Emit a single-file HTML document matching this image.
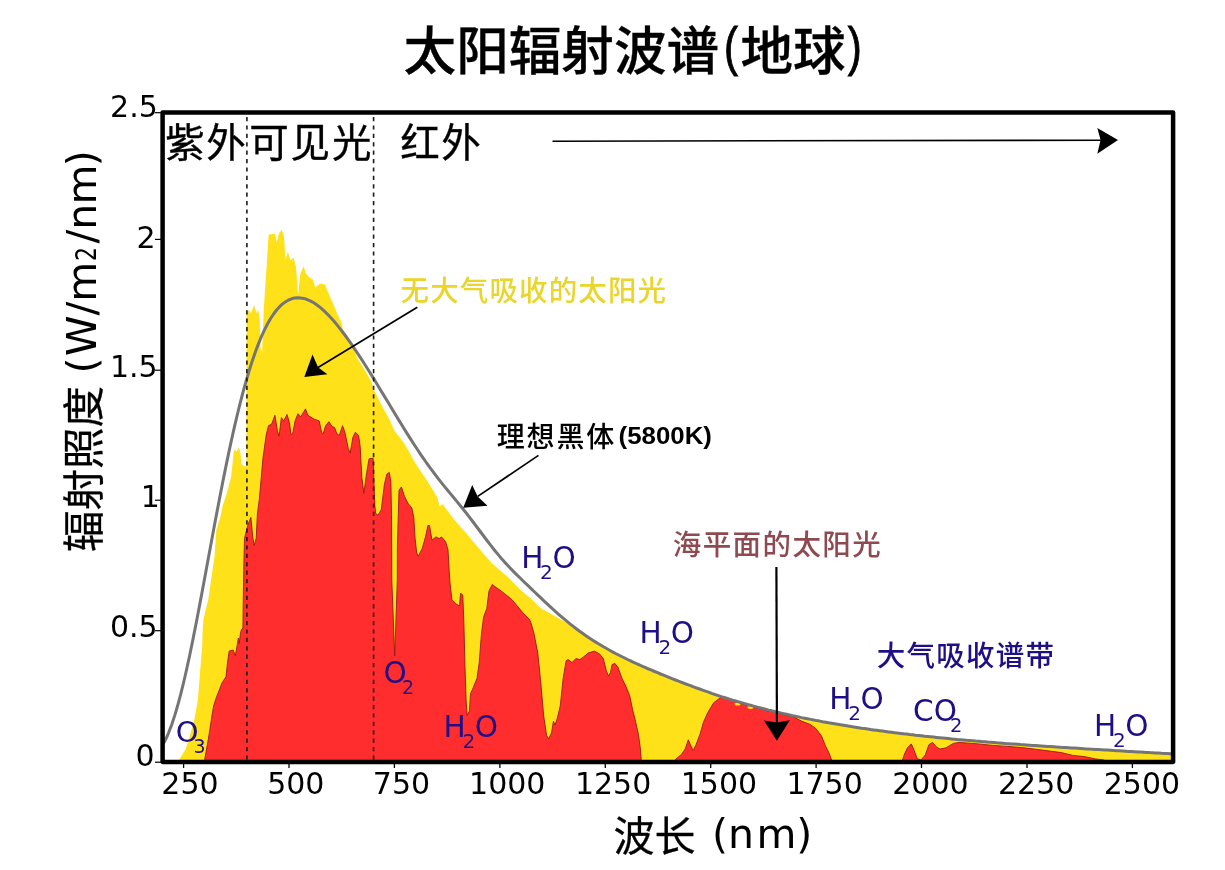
<!DOCTYPE html>
<html lang="zh"><head><meta charset="utf-8"><title>太阳辐射波谱(地球)</title>
<style>
html,body{margin:0;padding:0;background:#fff;}
body{width:1225px;height:870px;overflow:hidden;}
svg{display:block;}
.dj{font-family:"DejaVu Sans","Liberation Sans",sans-serif;}
.cj{font-family:"Liberation Sans","Noto Sans CJK SC",sans-serif;}
.cjd{font-family:"DejaVu Sans","Liberation Sans","Noto Sans CJK SC",sans-serif;}
</style></head><body>
<svg width="1225" height="870" viewBox="0 0 1225 870">
<rect width="1225" height="870" fill="#fff"/>
<path d="M178.0,762.0 L179.3,759.5 L185.7,749.0 L188.2,741.8 L194.5,718.7 L197.9,700.0 L200.2,670.0 L202.2,646.0 L202.6,630.0 L203.5,618.7 L208.3,599.4 L214.7,554.4 L216.3,530.0 L220.3,517.4 L222.6,505.9 L227.2,492.1 L231.3,476.0 L233.6,453.0 L234.7,449.0 L236.5,452.0 L238.7,447.2 L240.5,453.0 L241.6,464.5 L246.4,467.0 L246.6,312.0 L249.0,310.1 L250.9,313.3 L254.1,305.3 L256.6,313.3 L258.2,310.0 L259.8,319.8 L260.6,348.7 L262.2,352.0 L263.8,308.5 L267.0,260.2 L268.6,234.5 L275.1,233.7 L276.7,242.5 L279.1,232.9 L281.8,229.7 L283.9,236.1 L285.5,260.2 L287.9,251.4 L290.3,260.2 L293.6,257.8 L296.0,266.7 L297.6,289.2 L298.4,294.0 L300.0,274.7 L303.7,265.9 L305.6,273.1 L308.9,277.1 L312.9,279.5 L315.3,287.6 L320.1,283.6 L324.9,284.4 L328.2,292.4 L333.0,303.7 L337.8,315.0 L341.8,323.0 L342.7,329.4 L351.0,342.2 L357.4,358.3 L365.4,371.2 L371.0,380.8 L374.3,390.5 L381.5,405.0 L389.5,419.4 L394.4,430.7 L400.8,438.7 L405.6,445.6 L415.4,463.2 L427.1,480.8 L436.9,496.4 L439.8,506.2 L442.7,504.3 L454.5,519.9 L468.2,535.5 L477.9,547.2 L491.6,562.9 L507.2,576.5 L520.0,589.6 L532.6,600.0 L539.6,607.6 L552.0,614.5 L569.0,623.9 L572.0,625.4 L576.0,628.5 L580.0,631.5 L584.0,634.3 L588.0,637.1 L592.0,639.7 L596.0,642.2 L600.0,644.7 L604.0,647.1 L608.0,649.3 L612.0,651.5 L616.0,653.7 L620.0,655.7 L624.0,657.7 L628.0,659.7 L632.0,661.6 L636.0,663.4 L640.0,665.2 L644.0,667.0 L648.0,668.7 L652.0,670.4 L656.0,672.1 L660.0,673.7 L664.0,675.3 L668.0,677.0 L672.0,678.6 L676.0,680.1 L680.0,681.7 L684.0,683.2 L688.0,684.8 L692.0,686.3 L696.0,687.7 L700.0,689.2 L704.0,690.6 L708.0,692.0 L712.0,693.4 L716.0,694.8 L720.0,696.1 L724.0,697.4 L728.0,698.7 L732.0,699.9 L736.0,701.1 L740.0,702.3 L744.0,703.5 L748.0,704.6 L752.0,705.7 L756.0,706.8 L760.0,707.9 L764.0,708.9 L768.0,709.9 L772.0,710.9 L776.0,711.9 L780.0,712.8 L784.0,713.7 L788.0,714.6 L792.0,715.5 L796.0,716.4 L800.0,717.2 L804.0,718.1 L808.0,718.9 L812.0,719.7 L816.0,720.4 L820.0,721.2 L824.0,721.9 L828.0,722.7 L832.0,723.4 L836.0,724.1 L840.0,724.7 L844.0,725.4 L848.0,726.1 L852.0,726.7 L856.0,727.3 L860.0,727.9 L864.0,728.5 L868.0,729.1 L872.0,729.7 L876.0,730.2 L880.0,730.8 L884.0,731.3 L888.0,731.8 L892.0,732.3 L896.0,732.9 L900.0,733.3 L904.0,733.8 L908.0,734.3 L912.0,734.8 L916.0,735.2 L920.0,735.7 L924.0,736.1 L928.0,736.5 L932.0,736.9 L936.0,737.4 L940.0,737.8 L944.0,738.2 L948.0,738.6 L952.0,738.9 L956.0,739.3 L960.0,739.7 L964.0,740.0 L968.0,740.4 L972.0,740.7 L976.0,741.1 L980.0,741.4 L984.0,741.8 L988.0,742.1 L992.0,742.4 L996.0,742.7 L1000.0,743.0 L1004.0,743.3 L1008.0,743.6 L1012.0,743.9 L1016.0,744.2 L1020.0,744.5 L1024.0,744.8 L1028.0,745.1 L1032.0,745.4 L1036.0,745.6 L1040.0,745.9 L1044.0,746.2 L1048.0,746.4 L1052.0,746.7 L1056.0,747.0 L1060.0,747.2 L1064.0,747.5 L1068.0,747.7 L1072.0,748.0 L1076.0,748.2 L1080.0,748.5 L1084.0,748.7 L1088.0,749.0 L1092.0,749.2 L1096.0,749.4 L1100.0,749.7 L1104.0,749.9 L1108.0,750.2 L1112.0,750.4 L1116.0,750.6 L1120.0,750.9 L1124.0,751.1 L1128.0,751.3 L1132.0,751.6 L1136.0,751.8 L1140.0,752.0 L1144.0,752.2 L1148.0,752.5 L1152.0,752.7 L1156.0,752.9 L1160.0,753.2 L1164.0,753.4 L1168.0,753.6 L1171.2,753.8 L1171.2,762.0Z" fill="#ffe11a"/>
<path d="M204.6,762.0 L204.7,759.5 L208.3,739.4 L209.8,729.9 L212.1,714.9 L213.6,706.0 L216.3,697.6 L222.0,683.0 L226.0,676.7 L227.6,662.0 L229.2,651.0 L233.2,650.0 L235.3,655.7 L237.2,645.3 L238.4,638.0 L239.2,643.7 L240.5,633.0 L241.3,630.0 L242.9,628.0 L243.7,570.5 L244.5,538.3 L247.7,525.4 L250.9,517.4 L252.5,535.0 L254.1,545.5 L256.2,538.3 L257.4,514.0 L259.3,499.5 L263.0,458.0 L266.2,435.0 L268.5,425.7 L271.7,424.1 L274.9,415.3 L277.4,430.6 L279.0,436.2 L281.4,417.7 L283.8,420.9 L287.0,414.5 L289.4,422.5 L291.0,434.6 L292.6,433.8 L295.1,420.9 L298.0,413.7 L300.7,416.9 L305.5,408.9 L307.9,415.3 L314.4,419.3 L319.2,420.9 L321.6,432.2 L323.2,433.8 L325.6,425.7 L328.9,421.7 L332.1,426.6 L334.5,427.4 L336.9,433.8 L339.3,435.4 L342.5,425.7 L344.9,432.2 L348.2,448.3 L350.1,453.1 L353.0,437.0 L355.4,432.2 L358.6,435.4 L360.2,446.7 L361.8,477.2 L363.9,493.3 L366.7,472.4 L369.1,458.7 L373.1,458.3 L373.9,480.5 L374.8,505.0 L375.6,513.2 L378.0,515.2 L381.3,509.5 L384.5,483.8 L386.9,474.1 L389.3,472.5 L390.9,482.2 L391.5,514.4 L391.8,580.0 L394.7,656.0 L397.3,580.0 L397.4,546.6 L399.0,490.2 L401.4,487.0 L404.6,496.7 L407.8,503.1 L411.8,507.9 L413.8,517.6 L415.1,538.5 L416.7,553.0 L418.3,556.2 L422.3,548.2 L425.5,536.9 L427.9,525.6 L429.5,525.6 L432.0,540.1 L436.0,536.9 L439.2,538.5 L441.6,536.9 L445.6,541.7 L448.0,549.8 L449.2,570.7 L449.9,582.0 L451.9,599.7 L456.3,604.0 L459.5,606.0 L460.6,593.1 L462.8,595.3 L463.9,623.7 L465.0,667.4 L466.1,700.1 L467.2,715.4 L469.4,711.0 L470.5,693.6 L472.6,689.2 L477.0,678.3 L479.2,663.0 L481.4,634.6 L483.6,617.1 L486.8,608.4 L489.0,590.9 L492.3,584.4 L493.4,585.5 L501.0,590.9 L512.0,599.7 L522.9,612.8 L529.4,619.3 L531.0,623.0 L533.9,633.2 L537.8,653.0 L540.8,683.0 L543.7,716.0 L546.6,735.5 L548.7,738.8 L551.5,732.9 L553.5,721.2 L555.0,725.1 L557.4,718.0 L560.3,705.6 L563.2,678.2 L566.2,660.6 L568.1,659.6 L572.0,662.5 L575.9,658.6 L579.8,659.6 L583.8,656.7 L588.6,652.8 L594.5,651.2 L599.4,653.8 L603.3,658.6 L606.2,670.4 L608.6,676.2 L610.5,672.3 L612.1,664.5 L615.0,663.5 L618.0,667.4 L621.9,678.2 L625.8,686.0 L629.7,695.8 L632.6,709.5 L635.5,721.2 L638.5,734.9 L640.4,748.6 L641.4,762.0ZM675.6,762.0 L675.6,759.3 L681.5,754.4 L685.4,748.6 L688.3,739.8 L690.3,744.6 L693.2,750.5 L696.1,744.6 L700.1,734.0 L703.4,722.3 L707.8,712.5 L713.7,702.7 L721.6,696.8 L729.4,698.8 L733.0,701.2 L737.0,702.4 L741.0,703.6 L745.0,704.8 L749.0,705.9 L753.0,707.0 L757.0,708.1 L761.0,709.1 L765.0,710.1 L769.0,711.2 L773.0,712.1 L777.0,713.1 L781.0,714.0 L785.0,715.0 L789.0,715.9 L793.0,716.7 L801.9,721.3 L809.7,724.2 L815.6,728.2 L821.5,736.0 L825.4,745.8 L829.3,753.6 L832.3,762.0ZM901.8,762.0 L904.5,754.0 L907.6,747.6 L911.3,743.9 L914.2,750.5 L917.2,758.6 L920.9,760.0 L925.3,755.0 L928.9,744.7 L932.6,742.4 L936.3,746.9 L940.0,749.0 L945.8,747.9 L953.2,743.5 L959.0,742.4 L978.2,743.9 L992.9,745.4 L1007.5,746.4 L1022.2,747.6 L1036.9,749.4 L1051.6,751.3 L1061.4,752.6 L1072.9,755.4 L1084.3,756.6 L1095.7,758.9 L1103.7,760.0 L1108.0,762.0Z" fill="#ff2d2d" stroke="#98190f" stroke-width="0.9" stroke-linejoin="round"/>
<ellipse cx="737.5" cy="704" rx="3" ry="1.6" fill="#ffe11a"/><ellipse cx="750.5" cy="707.3" rx="3" ry="1.6" fill="#ffe11a"/>
<path d="M162.6,745.3 L165.6,739.6 L168.6,732.8 L171.6,725.0 L174.6,715.9 L177.6,705.8 L180.6,694.7 L183.6,682.5 L186.6,669.5 L189.6,655.7 L192.6,641.1 L195.6,626.0 L198.6,610.5 L201.6,594.6 L204.6,578.5 L207.6,562.2 L210.6,546.0 L213.6,529.8 L216.6,513.9 L219.6,498.2 L222.6,482.8 L225.6,467.9 L228.6,453.4 L231.6,439.5 L234.6,426.2 L237.6,413.5 L240.6,401.4 L243.6,390.0 L246.6,379.3 L249.6,369.2 L252.6,359.9 L255.6,351.3 L258.6,343.4 L261.6,336.1 L264.6,329.6 L267.6,323.7 L270.6,318.5 L273.6,314.0 L276.6,310.0 L279.6,306.7 L282.6,303.9 L285.6,301.7 L288.6,300.0 L291.6,298.8 L294.6,298.0 L297.6,297.8 L300.6,297.9 L303.6,298.4 L306.6,299.3 L309.6,300.6 L312.6,302.1 L315.6,304.0 L318.6,306.2 L321.6,308.7 L324.6,311.4 L327.6,314.3 L330.6,317.5 L333.6,320.8 L336.6,324.4 L339.6,328.1 L342.6,332.0 L345.6,336.0 L348.6,340.1 L351.6,344.4 L354.6,348.8 L357.6,353.3 L360.6,357.9 L363.6,362.5 L366.6,367.2 L369.6,372.0 L372.6,376.9 L375.6,381.8 L378.6,386.7 L381.6,391.7 L384.6,396.6 L387.6,401.6 L390.6,406.6 L393.6,411.6 L396.6,416.5 L399.6,421.4 L402.6,426.3 L405.6,431.1 L408.6,435.9 L411.6,440.6 L414.6,445.2 L417.6,449.8 L420.6,454.3 L423.6,458.7 L426.6,463.0 L429.6,467.1 L432.6,471.2 L435.6,475.2 L438.6,479.1 L441.6,482.9 L444.6,486.6 L447.6,490.3 L450.6,493.9 L453.6,497.5 L456.6,501.1 L459.6,504.8 L462.6,508.5 L465.6,512.2 L468.6,516.1 L471.6,520.0 L474.6,524.0 L477.6,528.0 L480.6,532.0 L483.6,536.0 L486.6,540.0 L489.6,543.9 L492.6,547.7 L495.6,551.5 L498.6,555.1 L501.6,558.7 L504.6,562.1 L507.6,565.3 L510.6,568.5 L513.6,571.6 L516.6,574.6 L519.6,577.5 L522.6,580.5 L525.6,583.3 L528.6,586.2 L531.6,589.1 L534.6,592.0 L537.6,594.9 L540.6,597.7 L543.6,600.6 L546.6,603.4 L549.6,606.2 L552.6,608.9 L555.6,611.6 L558.6,614.3 L561.6,616.9 L564.6,619.4 L567.6,621.9 L570.6,624.3 L573.6,626.7 L576.6,629.0 L579.6,631.2 L582.6,633.3 L585.6,635.4 L588.6,637.5 L591.6,639.4 L594.6,641.4 L597.6,643.2 L600.6,645.0 L603.6,646.8 L606.6,648.5 L609.6,650.2 L612.6,651.9 L615.6,653.5 L618.6,655.0 L621.6,656.5 L624.6,658.0 L627.6,659.5 L630.6,660.9 L633.6,662.3 L636.6,663.7 L639.6,665.0 L642.6,666.4 L645.6,667.7 L648.6,669.0 L651.6,670.2 L654.6,671.5 L657.6,672.7 L660.6,674.0 L663.6,675.2 L666.6,676.4 L669.6,677.6 L672.6,678.8 L675.6,680.0 L678.6,681.2 L681.6,682.3 L684.6,683.5 L687.6,684.6 L690.6,685.7 L693.6,686.9 L696.6,688.0 L699.6,689.0 L702.6,690.1 L705.6,691.2 L708.6,692.2 L711.6,693.3 L714.6,694.3 L717.6,695.3 L720.6,696.3 L723.6,697.3 L726.6,698.2 L729.6,699.2 L732.6,700.1 L735.6,701.0 L738.6,701.9 L741.6,702.8 L744.6,703.6 L747.6,704.5 L750.6,705.3 L753.6,706.1 L756.6,707.0 L759.6,707.7 L762.6,708.5 L765.6,709.3 L768.6,710.1 L771.6,710.8 L774.6,711.5 L777.6,712.2 L780.6,712.9 L783.6,713.6 L786.6,714.3 L789.6,715.0 L792.6,715.7 L795.6,716.3 L798.6,716.9 L801.6,717.6 L804.6,718.2 L807.6,718.8 L810.6,719.4 L813.6,720.0 L816.6,720.6 L819.6,721.1 L822.6,721.7 L825.6,722.2 L828.6,722.8 L831.6,723.3 L834.6,723.8 L837.6,724.3 L840.6,724.8 L843.6,725.3 L846.6,725.8 L849.6,726.3 L852.6,726.8 L855.6,727.2 L858.6,727.7 L861.6,728.2 L864.6,728.6 L867.6,729.0 L870.6,729.5 L873.6,729.9 L876.6,730.3 L879.6,730.7 L882.6,731.1 L885.6,731.5 L888.6,731.9 L891.6,732.3 L894.6,732.7 L897.6,733.1 L900.6,733.4 L903.6,733.8 L906.6,734.1 L909.6,734.5 L912.6,734.8 L915.6,735.2 L918.6,735.5 L921.6,735.8 L924.6,736.2 L927.6,736.5 L930.6,736.8 L933.6,737.1 L936.6,737.4 L939.6,737.7 L942.6,738.0 L945.6,738.3 L948.6,738.6 L951.6,738.9 L954.6,739.2 L957.6,739.5 L960.6,739.7 L963.6,740.0 L966.6,740.3 L969.6,740.5 L972.6,740.8 L975.6,741.1 L978.6,741.3 L981.6,741.6 L984.6,741.8 L987.6,742.1 L990.6,742.3 L993.6,742.5 L996.6,742.8 L999.6,743.0 L1002.6,743.2 L1005.6,743.5 L1008.6,743.7 L1011.6,743.9 L1014.6,744.1 L1017.6,744.3 L1020.6,744.6 L1023.6,744.8 L1026.6,745.0 L1029.6,745.2 L1032.6,745.4 L1035.6,745.6 L1038.6,745.8 L1041.6,746.0 L1044.6,746.2 L1047.6,746.4 L1050.6,746.6 L1053.6,746.8 L1056.6,747.0 L1059.6,747.2 L1062.6,747.4 L1065.6,747.6 L1068.6,747.8 L1071.6,748.0 L1074.6,748.1 L1077.6,748.3 L1080.6,748.5 L1083.6,748.7 L1086.6,748.9 L1089.6,749.1 L1092.6,749.2 L1095.6,749.4 L1098.6,749.6 L1101.6,749.8 L1104.6,750.0 L1107.6,750.1 L1110.6,750.3 L1113.6,750.5 L1116.6,750.7 L1119.6,750.8 L1122.6,751.0 L1125.6,751.2 L1128.6,751.4 L1131.6,751.5 L1134.6,751.7 L1137.6,751.9 L1140.6,752.0 L1143.6,752.2 L1146.6,752.4 L1149.6,752.6 L1152.6,752.7 L1155.6,752.9 L1158.6,753.1 L1161.6,753.3 L1164.6,753.4 L1167.6,753.6 L1170.6,753.8 L1171.2,753.8" fill="none" stroke="#757575" stroke-width="3.0" stroke-linejoin="round"/>
<line x1="246.9" y1="117" x2="246.9" y2="760" stroke="#1a1a1a" stroke-width="1.6" stroke-dasharray="4.2,4.2"/>
<line x1="373.6" y1="117" x2="373.6" y2="760" stroke="#1a1a1a" stroke-width="1.6" stroke-dasharray="4.2,4.2"/>
<rect x="162.6" y="112.5" width="1010.5" height="649.4" fill="none" stroke="#000" stroke-width="4.5" stroke-linejoin="round"/>
<line x1="183.6" y1="762" x2="183.6" y2="768" stroke="#000" stroke-width="1.3"/><text class="dj" font-size="30" text-anchor="middle" x="190.0" y="793.6">250</text><line x1="289.0" y1="762" x2="289.0" y2="768" stroke="#000" stroke-width="1.3"/><text class="dj" font-size="30" text-anchor="middle" x="295.8" y="793.6">500</text><line x1="394.4" y1="762" x2="394.4" y2="768" stroke="#000" stroke-width="1.3"/><text class="dj" font-size="30" text-anchor="middle" x="401.5" y="793.6">750</text><line x1="499.9" y1="762" x2="499.9" y2="768" stroke="#000" stroke-width="1.3"/><text class="dj" font-size="30" text-anchor="middle" x="507.3" y="793.6">1000</text><line x1="605.3" y1="762" x2="605.3" y2="768" stroke="#000" stroke-width="1.3"/><text class="dj" font-size="30" text-anchor="middle" x="613.1" y="793.6">1250</text><line x1="710.7" y1="762" x2="710.7" y2="768" stroke="#000" stroke-width="1.3"/><text class="dj" font-size="30" text-anchor="middle" x="718.9" y="793.6">1500</text><line x1="816.1" y1="762" x2="816.1" y2="768" stroke="#000" stroke-width="1.3"/><text class="dj" font-size="30" text-anchor="middle" x="824.6" y="793.6">1750</text><line x1="921.5" y1="762" x2="921.5" y2="768" stroke="#000" stroke-width="1.3"/><text class="dj" font-size="30" text-anchor="middle" x="930.4" y="793.6">2000</text><line x1="1027.0" y1="762" x2="1027.0" y2="768" stroke="#000" stroke-width="1.3"/><text class="dj" font-size="30" text-anchor="middle" x="1036.2" y="793.6">2250</text><line x1="1132.4" y1="762" x2="1132.4" y2="768" stroke="#000" stroke-width="1.3"/><text class="dj" font-size="30" text-anchor="middle" x="1141.9" y="793.6">2500</text><line x1="155" y1="112.7" x2="161" y2="112.7" stroke="#000" stroke-width="1.2"/><text class="dj" font-size="30" text-anchor="end" x="157.8" y="116.8">2.5</text><line x1="155" y1="239.4" x2="161" y2="239.4" stroke="#000" stroke-width="1.2"/><text class="dj" font-size="30" text-anchor="end" x="155.5" y="247.9">2</text><line x1="155" y1="370.2" x2="161" y2="370.2" stroke="#000" stroke-width="1.2"/><text class="dj" font-size="30" text-anchor="end" x="157.7" y="376.9">1.5</text><line x1="155" y1="500.2" x2="161" y2="500.2" stroke="#000" stroke-width="1.2"/><text class="dj" font-size="30" text-anchor="end" x="159.9" y="506.8">1</text><line x1="155" y1="630.7" x2="161" y2="630.7" stroke="#000" stroke-width="1.2"/><text class="dj" font-size="30" text-anchor="end" x="157.7" y="637.0">0.5</text><line x1="155" y1="762.2" x2="161" y2="762.2" stroke="#000" stroke-width="1.2"/><text class="dj" font-size="30" text-anchor="end" x="154.7" y="766.4">0</text>
<!-- arrows -->
<line x1="552.5" y1="141.2" x2="1102" y2="140.2" stroke="#000" stroke-width="1.6"/>
<path d="M1118,140.1 L1097.3,127.9 L1100.6,140.1 L1097.3,153.7Z" fill="#000"/>
<line x1="417.3" y1="307.3" x2="318" y2="367.6" stroke="#000" stroke-width="1.7"/>
<path d="M304.3,377.1 L312.5,354.5 L318.2,367.4 L327.4,374.3Z" fill="#000"/>
<line x1="538.5" y1="455.4" x2="477.7" y2="496.4" stroke="#000" stroke-width="1.7"/>
<path d="M463.2,507.8 L472.2,485 L477.7,496.4 L487.5,505.7Z" fill="#000"/>
<line x1="776.4" y1="567" x2="776.9" y2="723" stroke="#000" stroke-width="2.2"/>
<path d="M776.9,740.8 L764,720.4 L776.9,722.6 L789.8,720.3Z" fill="#000"/>
<text class="dj" fill="#1f0f87" font-size="29.5" x="521.2" y="567.6">H</text><text class="dj" fill="#1f0f87" font-size="20" x="540.1" y="578.6">2</text><text class="dj" fill="#1f0f87" font-size="29.5" x="552.5" y="567.6">O</text><text class="dj" fill="#1f0f87" font-size="29.5" x="639.5" y="642.7">H</text><text class="dj" fill="#1f0f87" font-size="20" x="658.4" y="653.7">2</text><text class="dj" fill="#1f0f87" font-size="29.5" x="670.8" y="642.7">O</text><text class="dj" fill="#1f0f87" font-size="29.5" x="829.3" y="709.0">H</text><text class="dj" fill="#1f0f87" font-size="20" x="848.2" y="720.0">2</text><text class="dj" fill="#1f0f87" font-size="29.5" x="860.6" y="709.0">O</text><text class="dj" fill="#1f0f87" font-size="29.5" x="1094.0" y="736.3">H</text><text class="dj" fill="#1f0f87" font-size="20" x="1112.9" y="747.3">2</text><text class="dj" fill="#1f0f87" font-size="29.5" x="1125.2" y="736.3">O</text><text class="dj" fill="#1f0f87" font-size="29.5" x="443.5" y="736.8">H</text><text class="dj" fill="#1f0f87" font-size="20" x="462.4" y="747.8">2</text><text class="dj" fill="#1f0f87" font-size="29.5" x="474.8" y="736.8">O</text><text class="dj" fill="#1f0f87" font-size="29.5" x="913.1" y="720.8">CO</text><text class="dj" fill="#1f0f87" font-size="19.5" x="949.9" y="731.5">2</text><text class="dj" fill="#1f0f87" font-size="29.5" x="383.5" y="682.5">O</text><text class="dj" fill="#1f0f87" font-size="19" x="402.0" y="693.9">2</text><text class="dj" fill="#1f0f87" font-size="29" x="175.7" y="742.2">O</text><text class="dj" fill="#1f0f87" font-size="19" x="193.5" y="752.5">3</text>
<!-- text -->
<text class="cj" font-weight="500" font-size="52.6" y="69.5" stroke="#000" stroke-width="0.3"><tspan x="403.6">太阳辐射波谱</tspan><tspan x="724.1" y="64.7" font-size="54" font-weight="400" stroke-width="1.0" textLength="14" lengthAdjust="spacingAndGlyphs">(</tspan><tspan x="740.5" y="69.5">地球</tspan><tspan x="847.8" y="64.7" font-size="54" font-weight="400" stroke-width="1.0" textLength="14" lengthAdjust="spacingAndGlyphs">)</tspan></text>
<text class="cj" font-size="39.5" x="165.3" y="156.5" letter-spacing="1.5" stroke="#000" stroke-width="0.35">紫外</text>
<text class="cj" font-size="39.5" x="249.3" y="156.5" letter-spacing="1.8" stroke="#000" stroke-width="0.35">可见光</text>
<text class="cj" font-size="39.5" x="400.3" y="156.5" letter-spacing="1.5" stroke="#000" stroke-width="0.35">红外</text>
<text class="cj" font-size="28.5" x="400.6" y="301.2" fill="#ead52c" letter-spacing="1.12" font-weight="500">无大气吸收的太阳光</text>
<text class="cj" font-size="28" x="496.8" y="446.8" letter-spacing="1.8" font-weight="500">理想黑体</text>
<text font-family="'Liberation Sans',sans-serif" font-weight="700" font-size="24" x="618.6" y="444.3" textLength="93.3" lengthAdjust="spacingAndGlyphs">(5800K)</text>
<text class="cj" font-size="28.5" x="672.8" y="554.5" fill="#8e4a50" letter-spacing="1.4" font-weight="500">海平面的太阳光</text>
<text class="cj" font-size="28.5" x="876.8" y="665.6" fill="#1f0f87" letter-spacing="1.25" font-weight="500">大气吸收谱带</text>
<text class="cjd" font-size="41" x="613.5" y="850.6" stroke="#000" stroke-width="0.3">波长</text>
<text class="dj" font-size="41" x="711.9" y="848.4">(n</text>
<text class="dj" font-size="41" x="756.4" y="848.4">m)</text>
<g transform="translate(96,551) rotate(-90)">
<text class="cjd" font-size="41.5" x="-1" y="3" stroke="#000" stroke-width="0.3">辐射照度</text>
<text class="dj" font-size="41" x="177.4" y="0">(</text>
<text class="dj" font-size="41" x="195" y="0">W/m</text>
<text class="dj" font-size="29" x="290" y="0" textLength="14" lengthAdjust="spacingAndGlyphs">2</text>
<text class="dj" font-size="41" x="307.5" y="0">/n</text>
<text class="dj" font-size="41" x="346.4" y="0">m</text>
<text class="dj" font-size="41" x="384.8" y="0">)</text>
</g>
</svg>
</body></html>
